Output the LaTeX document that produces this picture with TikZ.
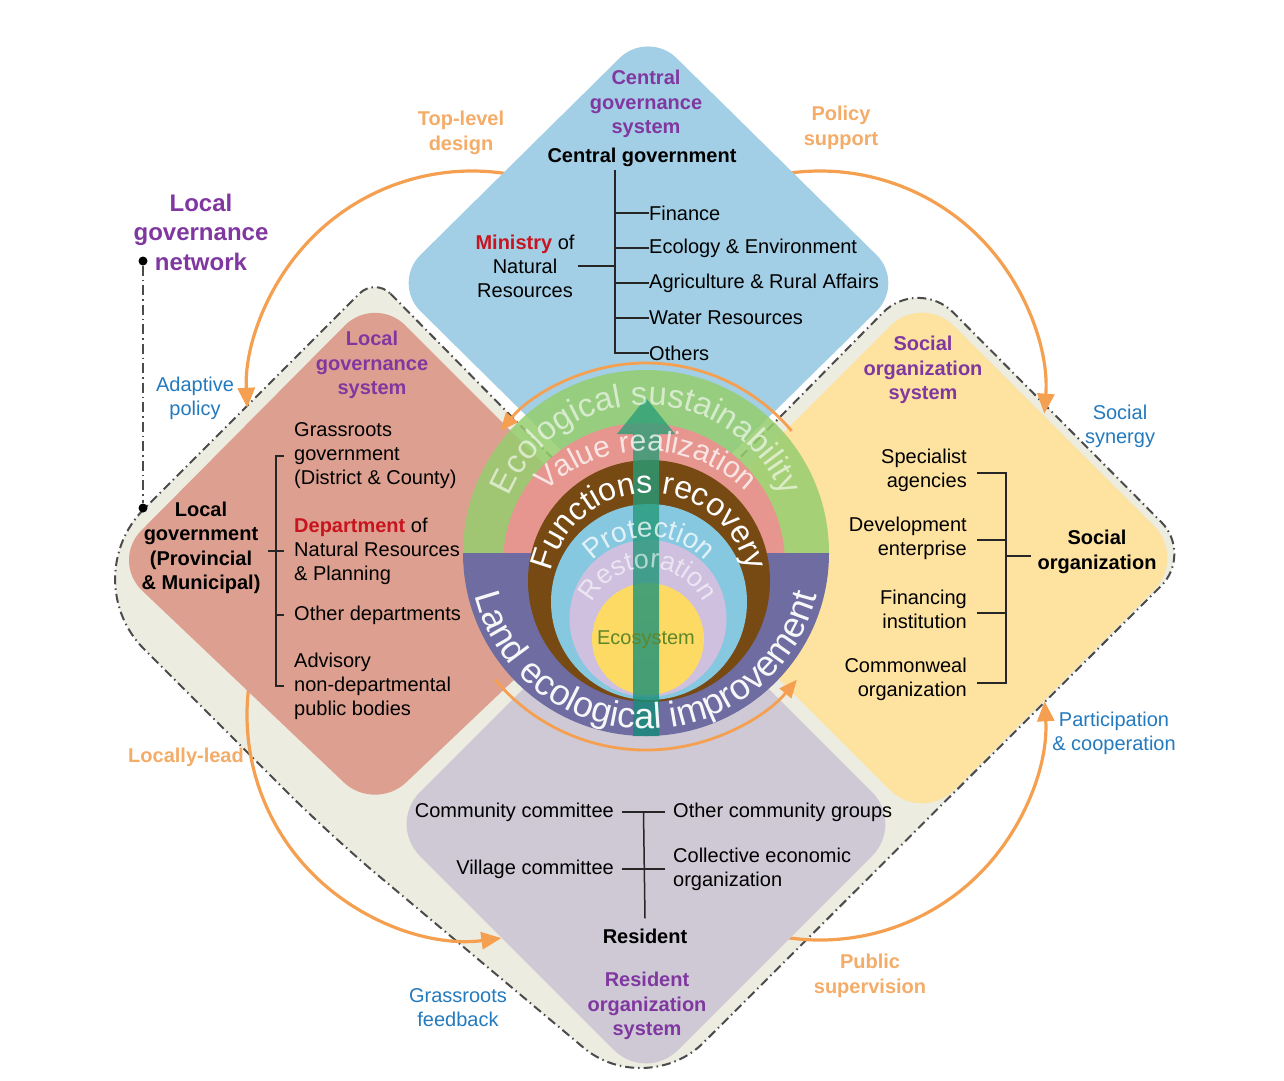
\documentclass[tikz,border=0pt]{standalone}
\usepackage{fontspec}
\setmainfont{Liberation Sans}
\usetikzlibrary{arrows.meta,decorations.text,calc}
\definecolor{bluefill}{RGB}{162,207,229}
\definecolor{salmonfill}{RGB}{221,160,144}
\definecolor{yellowfill}{RGB}{253,226,160}
\definecolor{lilacfill}{RGB}{206,201,213}
\definecolor{halofill}{RGB}{236,236,224}
\definecolor{haloline}{RGB}{75,75,75}
\definecolor{ringgreen}{RGB}{150,205,110}
\definecolor{ringpink}{RGB}{231,150,143}
\definecolor{ringpurple}{RGB}{110,108,160}
\definecolor{ringbrown}{RGB}{118,74,18}
\definecolor{ringblue}{RGB}{135,200,225}
\definecolor{ringlilac}{RGB}{206,192,222}
\definecolor{ringyellow}{RGB}{252,218,100}
\definecolor{arrowT}{RGB}{45,160,120}
\definecolor{arrowM}{RGB}{100,178,80}
\definecolor{arrowB}{RGB}{20,140,120}
\definecolor{orangeline}{RGB}{245,160,80}
\definecolor{orangetext}{RGB}{244,172,105}
\definecolor{purpletext}{RGB}{128,56,160}
\definecolor{bluetext}{RGB}{36,122,190}
\definecolor{redtext}{RGB}{200,20,30}
\definecolor{ecotext}{RGB}{95,135,40}
\begin{document}
\begin{tikzpicture}[x=1pt,y=-1pt,
  txt/.style={inner sep=0pt, font=\fontsize{20}{24}\selectfont, align=center},
  txtl/.style={txt, align=left},
  txtr/.style={txt, align=right},
  purp/.style={txt, text=purpletext, font=\bfseries\fontsize{20}{24.5}\selectfont},
  blk/.style={txt, font=\bfseries\fontsize{20}{24.5}\selectfont},
  orng/.style={txt, text=orangetext, font=\bfseries\fontsize{20}{24.5}\selectfont},
  blu/.style={txt, text=bluetext},
  tree/.style={draw=black!85, line width=1.5pt},
  orarc/.style={draw=orangeline, line width=3.2pt, -{Triangle[length=20pt,width=17pt]}},
  orarcin/.style={draw=orangeline, line width=2.8pt, -{Triangle[length=18pt,width=15pt]}},
  dotnode/.style={circle, fill=black, minimum size=9pt, inner sep=0pt},
  ringtext/.style={decorate, decoration={text along path, text align=center, text color=white, text={#1}}}
]
\useasboundingbox (0,0) rectangle (1284,1080);
\fill[white] (0,0) rectangle (1284,1080);

% ---------- halo (local governance network) ----------
\coordinate (H1) at (375,278);
\coordinate (H2) at (646,553);
\coordinate (H3) at (918,277);
\coordinate (H4) at (1193,554);
\coordinate (H5) at (646,1100);
\coordinate (H6) at (330,835);
\coordinate (H7) at (74,579);
\path[fill=halofill, draw=haloline, line width=2pt, dash pattern=on 9pt off 4pt on 1.5pt off 4pt]
 ($(H1)!22pt!(H2)$) -- (H2)
 -- ($(H3)!50pt!(H2)$) .. controls ($(H3)!22.5pt!(H2)$) and ($(H3)!22.5pt!(H4)$) .. ($(H3)!50pt!(H4)$)
 -- ($(H4)!45pt!(H3)$) .. controls ($(H4)!20.25pt!(H3)$) and ($(H4)!20.25pt!(H5)$) .. ($(H4)!45pt!(H5)$)
 -- ($(H5)!81pt!(H4)$) .. controls ($(H5)!36.45pt!(H4)$) and ($(H5)!36.45pt!(H6)$) .. ($(H5)!81pt!(H6)$)
 -- ($(H6)!60pt!(H5)$) .. controls ($(H6)!27pt!(H5)$) and ($(H6)!27pt!(H7)$) .. ($(H6)!60pt!(H7)$)
 -- ($(H7)!99pt!(H6)$) .. controls ($(H7)!44.55pt!(H6)$) and ($(H7)!44.55pt!(H1)$) .. ($(H7)!99pt!(H1)$)
 -- ($(H1)!22pt!(H7)$) .. controls ($(H1)!9.9pt!(H7)$) and ($(H1)!9.9pt!(H2)$) .. ($(H1)!22pt!(H2)$) -- cycle;

% ---------- outer orange arcs ----------
\coordinate (oA) at (472,396);
\coordinate (oB) at (820,396);
\coordinate (oC) at (820,715);
\coordinate (oD) at (472,715);
\draw[orarc] ($(oA)+(-80:225)$) arc[start angle=-80, end angle=-183, radius=225];
\draw[orarc] ($(oB)+(-100:225)$) arc[start angle=-100, end angle=4.5, radius=225];
\draw[orarc] ($(oC)+(-258:225)$) arc[start angle=-258, end angle=-363.5, radius=225];
\draw[orarc] ($(oD)+(-165:225)$) arc[start angle=-165, end angle=-277.5, radius=225];

% ---------- diamonds ----------
\fill[bluefill, rounded corners=40pt] (648,30) -- (905,283) -- (648,536) -- (392,283) -- cycle;
\fill[salmonfill, rounded corners=43pt] (375,295) -- (640,560) -- (375,812) -- (111,561) -- cycle;
\fill[yellowfill, rounded corners=45pt] (922,294) -- (1186,558) -- (922,822) -- (658,558) -- cycle;
\fill[lilacfill, rounded corners=45pt] (646,566) -- (904,824) -- (646,1082) -- (388,824) -- cycle;

% ---------- central circle ----------
\coordinate (cE) at (646,553);
\fill[ringgreen, opacity=0.85] ($(cE)+(-183,0)$) arc[start angle=180, end angle=360, radius=183] -- cycle;
\fill[ringpink] (644,564) circle[radius=141];
\fill[ringpurple] ($(cE)+(-183,0)$) arc[start angle=180, end angle=0, radius=183] -- cycle;
\fill[ringbrown] (649,581) circle[radius=121];
\fill[ringblue] (649,602) circle[radius=98];
\fill[ringlilac] (648,618.5) circle[radius=78.5];
\fill[ringyellow] (648,639) circle[radius=56];

\shade[top color=arrowT, middle color=arrowM, bottom color=arrowB, opacity=0.8]
  (633,736) -- (633,434) -- (617,434) -- (646,398) -- (675,434) -- (659,434) -- (659,736) -- cycle;

\coordinate (cV) at (646,595);
\coordinate (cF) at (649,593);
\coordinate (cP) at (649,615);
\coordinate (cR) at (648,630);
\begin{scope}[opacity=0.6]
\path[ringtext={|\fontsize{33}{33}\selectfont|Ecological sustainability}] ($(cE)+(-180:148)$) arc[start angle=-180, end angle=0, radius=148];
\end{scope}
\begin{scope}[opacity=0.75]
\path[ringtext={|\fontsize{30}{30}\selectfont|Value realization}] ($(cV)+(-180:144)$) arc[start angle=-180, end angle=0, radius=144];
\end{scope}
\path[ringtext={|\fontsize{32}{32}\selectfont|Functions recovery}] ($(cF)+(-180:100)$) arc[start angle=-180, end angle=0, radius=100];
\begin{scope}[opacity=0.75]
\path[ringtext={|\fontsize{28}{28}\selectfont|Protection}] ($(cP)+(-180:78)$) arc[start angle=-180, end angle=0, radius=78];
\end{scope}
\begin{scope}[opacity=0.6]
\path[ringtext={|\fontsize{27}{27}\selectfont|Restoration}] ($(cR)+(-180:62)$) arc[start angle=-180, end angle=0, radius=62];
\end{scope}
\begin{scope}[opacity=0.95]
\path[ringtext={|\fontsize{36}{36}\selectfont|Land ecological improvement}] ($(cE)+(-180:176)$) arc[start angle=-180, end angle=-360, radius=176];
\end{scope}
\node[txt, text=ecotext] (ecs) at (646,640) {Ecosystem};

% ---------- inner orange arcs ----------
\draw[orarcin] ($(cE)+(-40:190)$) arc[start angle=-40, end angle=-140, radius=190];
\draw[orarcin] ($(cE)+(-220:197)$) arc[start angle=-220, end angle=-320, radius=197];

% ---------- top: central governance ----------
\node[purp] (cgs) at (646,104) {Central\\governance\\system};
\node[blk] (cg) at (642,157) {Central government};
\coordinate (trk) at (615,170);
\node[txt, anchor=west] (fin) at (649,213) {Finance};
\node[txt, anchor=west] (eco2) at (649,248) {Ecology \& Environment};
\node[txt, anchor=west] (agr) at (649,283) {Agriculture \& Rural Affairs};
\node[txt, anchor=west] (wat) at (649,318) {Water Resources};
\node[txt, anchor=west] (oth) at (649,353) {Others};
\node[txt] (mnr) at (525,266) {\textcolor{redtext}{\bfseries Ministry} of\\Natural\\Resources};
\draw[tree] (trk) |- (oth.west);
\foreach \n in {fin,eco2,agr,wat} \draw[tree] (trk |- \n.west) -- (\n.west);
\draw[tree] ([xshift=3pt]mnr.east) -- (trk |- mnr.east);

% ---------- left: local governance ----------
\node[purp] (lgs) at (372,365) {Local\\governance\\system};
\node[blk] (lg) at (201,548) {Local\\government\\(Provincial\\\& Municipal)};
\node[txtl, anchor=west] (grs) at (294,456) {Grassroots\\government\\(District \& County)};
\node[txtl, anchor=west] (dep) at (294,551) {\textcolor{redtext}{\bfseries Department} of\\Natural Resources\\\& Planning};
\node[txtl, anchor=west] (odp) at (294,615) {Other departments};
\node[txtl, anchor=west] (adv) at (294,686) {Advisory\\non-departmental\\public bodies};
\draw[tree] ([xshift=-10pt]grs.west) -- ([xshift=-18pt]grs.west) |- ([xshift=-10pt]adv.west);
\draw[tree] ([xshift=-18pt]odp.west) -- ([xshift=-10pt]odp.west);
\draw[tree] ([xshift=-26pt]dep.west) -- ([xshift=-10pt]dep.west);

% ---------- right: social organization ----------
\node[purp] (sos) at (923,370) {Social\\organization\\system};
\node[txtr, anchor=east] (spa) at (967,470) {Specialist\\agencies};
\node[txtr, anchor=east] (dve) at (967,538) {Development\\enterprise};
\node[txtr, anchor=east] (fni) at (967,609) {Financing\\institution};
\node[txtr, anchor=east] (cmo) at (967,679) {Commonweal\\organization};
\node[blk] (soc) at (1097,552) {Social\\organization};
\draw[tree] ([xshift=10pt,yshift=-3pt]spa.east) -- ([xshift=39pt,yshift=-3pt]spa.east) |- ([xshift=10pt,yshift=-4pt]cmo.east);
\draw[tree] ([xshift=10pt,yshift=-2pt]dve.east) -- ([xshift=39pt,yshift=-2pt]dve.east);
\draw[tree] ([xshift=10pt,yshift=-4pt]fni.east) -- ([xshift=39pt,yshift=-4pt]fni.east);
\coordinate (rbm) at (1006,556);
\draw[tree] (rbm) -- ([xshift=-6pt]soc.west |- rbm);

% ---------- bottom: resident organization ----------
\node[txt, anchor=east] (cmc) at (614,812) {Community committee};
\node[txt, anchor=east] (vlc) at (614,869) {Village committee};
\node[txt, anchor=west] (ocg) at (673,812) {Other community groups};
\node[txtl, anchor=west] (ceo) at (673,869) {Collective economic\\organization};
\node[blk] (res) at (645,936) {Resident};
\node[purp] (ros) at (647,1006) {Resident\\organization\\system};
\draw[tree] ([xshift=8pt]cmc.east) -- ([xshift=-8pt]ocg.west);
\draw[tree] ([xshift=8pt]vlc.east) -- ([xshift=-8pt]vlc.east -| ocg.west);
\draw[tree] ($(cmc.east)!0.5!(ocg.west)$) -- ([yshift=10pt]res.north);

% ---------- outer labels ----------
\node[orng] (tld) at (461,133) {Top-level\\design};
\node[orng] (pls) at (841,128) {Policy\\support};
\node[purp, font=\bfseries\fontsize{24}{29.5}\selectfont] (lgn) at (201,232) {Local\\governance\\network};
\node[blu] (adp) at (195,398) {Adaptive\\policy};
\node[blu] (ssy) at (1120,426) {Social\\synergy};
\node[orng] (lcl) at (186,757) {Locally-lead};
\node[blu] (pac) at (1114,733) {Participation\\\& cooperation};
\node[blu] (gfb) at (458,1008) {Grassroots\\feedback};
\node[orng] (psv) at (870,976) {Public\\supervision};

\node[dotnode] (dta) at (143,261) {};
\node[dotnode] (dtb) at (143,508) {};
\draw[draw=haloline, line width=2pt, dash pattern=on 10pt off 4pt on 1.5pt off 4pt] (dta) -- (dtb);
\end{tikzpicture}
\end{document}
